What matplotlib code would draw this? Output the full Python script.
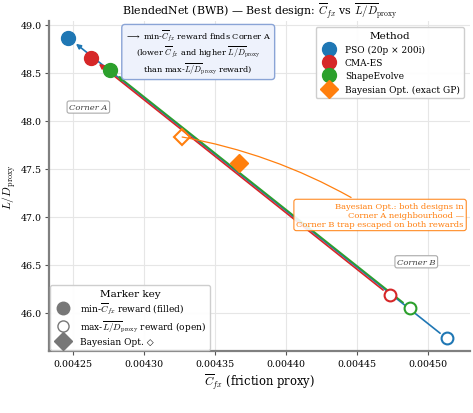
import matplotlib
matplotlib.use("Agg")
import matplotlib.pyplot as plt
from matplotlib.lines import Line2D

plt.rcParams['font.family'] = ['DejaVu Serif', 'DejaVu Sans']
plt.rcParams['mathtext.fontset'] = 'cm'

# best designs: (Cfx, L/D)
methods = ['PSO (20p × 200i)', 'CMA-ES', 'ShapeEvolve']
colors = ['#1f77b4', '#d62728', '#2ca02c']
cfx_min_cfx = [0.0042465, 0.0042627, 0.0042760]   # min-Cfx reward (filled)
ld_min_cfx = [48.865, 48.656, 48.530]
cfx_max_ld = [0.0045134, 0.0044732, 0.0044873]    # max-L/D reward (open)
ld_max_ld = [45.73, 46.18, 46.05]

bo_label = 'Bayesian Opt. (exact GP)'
bo_color = '#ff7f0e'
bo_cfx = [0.0043670, 0.0043268]   # filled, open
bo_ld = [47.56, 47.83]

fig, ax = plt.subplots(figsize=(4.73, 4.14), dpi=100)
fig.subplots_adjust(left=0.104, right=0.994, bottom=0.150, top=0.947)

for i, m in enumerate(methods):
    c = colors[i]
    ax.annotate('', xy=(cfx_min_cfx[i], ld_min_cfx[i]), xytext=(cfx_max_ld[i], ld_max_ld[i]),
                arrowprops=dict(arrowstyle='-|>', color=c, lw=1.2, mutation_scale=7,
                                shrinkA=6, shrinkB=7), zorder=2)
    ax.plot(cfx_min_cfx[i], ld_min_cfx[i], 'o', ms=10, color=c, zorder=4)
    ax.plot(cfx_max_ld[i], ld_max_ld[i], 'o', ms=8.5, mfc='white', mec=c, mew=1.5, zorder=4)

ax.plot(bo_cfx[0], bo_ld[0], 'D', ms=9, color=bo_color, zorder=4)
ax.plot(bo_cfx[1], bo_ld[1], 'D', ms=8, mfc='none', mec=bo_color, mew=1.5, zorder=4)

ax.set_xlim(0.004233, 0.004530)
ax.set_ylim(45.60, 49.04)
ax.set_xticks([0.00425, 0.00430, 0.00435, 0.00440, 0.00445, 0.00450])
ax.set_xticklabels(['0.00425', '0.00430', '0.00435', '0.00440', '0.00445', '0.00450'])
ax.set_yticks([46.0, 46.5, 47.0, 47.5, 48.0, 48.5, 49.0])
ax.tick_params(labelsize=6.8, length=3, color='#555555', pad=2.5)
ax.grid(True, color='#e6e6e6', lw=0.8)
ax.set_axisbelow(True)
for s in ['top', 'right']:
    ax.spines[s].set_visible(False)
for s in ['left', 'bottom']:
    ax.spines[s].set_color('#808080')
    ax.spines[s].set_linewidth(1.6)

ax.set_title(r'BlendedNet (BWB) — Best design: $\overline{C}_{fx}$ vs $\overline{L/D}_{\rm proxy}$',
             fontsize=7.9, pad=3)
ax.set_xlabel(r'$\overline{C}_{fx}$ (friction proxy)', fontsize=8.3, labelpad=3)
ax.set_ylabel(r'$\overline{L/D}_{\rm proxy}$', fontsize=8.3)
ax.yaxis.set_label_coords(-0.072, 0.5)

ax.text(0.354, 0.906,
        r'$\longrightarrow$ min-$\overline{C}_{fx}$ reward finds Corner A' + '\n' +
        r'(lower $\overline{C}_{fx}$ and higher $\overline{L/D}_{\rm proxy}$' + '\n' +
        r'than max-$\overline{L/D}_{\rm proxy}$ reward)',
        transform=ax.transAxes, ha='center', va='center', fontsize=5.9, linespacing=1.15,
        bbox=dict(boxstyle='round,pad=0.4', fc='#eef2fc', ec='#8aa4d6', lw=1))

ax.text(0.093, 0.739, 'Corner A', transform=ax.transAxes, ha='center', va='center',
        fontsize=6, style='italic', color='#444444',
        bbox=dict(boxstyle='round,pad=0.25', fc='white', ec='#aaaaaa', lw=0.8))
ax.text(0.872, 0.270, 'Corner B', transform=ax.transAxes, ha='center', va='center',
        fontsize=6, style='italic', color='#444444',
        bbox=dict(boxstyle='round,pad=0.25', fc='white', ec='#aaaaaa', lw=0.8))

ax.annotate('Bayesian Opt.: both designs in\nCorner A neighbourhood —\n'
            'Corner B trap escaped on both rewards',
            xy=(bo_cfx[1], bo_ld[1]), xytext=(0.786, 0.412), textcoords='axes fraction',
            ha='center', va='center', multialignment='right', fontsize=6, color=bo_color,
            bbox=dict(boxstyle='round,pad=0.3', fc='white', ec=bo_color, lw=0.8, alpha=0.9),
            arrowprops=dict(arrowstyle='-', color=bo_color, lw=0.9,
                            connectionstyle='arc3,rad=0.1', shrinkB=0))

method_handles = [Line2D([], [], marker='o', ls='', ms=10, color=c) for c in colors]
method_handles.append(Line2D([], [], marker='D', ls='', ms=9, color=bo_color))
leg1 = ax.legend(method_handles, methods + [bo_label], title='Method', loc='upper right',
                 fontsize=6.5, title_fontsize=7.5, framealpha=0.95, edgecolor='#cccccc',
                 handletextpad=0.8, borderpad=0.45, labelspacing=0.48, borderaxespad=0.7)
ax.add_artist(leg1)

key_handles = [Line2D([], [], marker='o', ls='', ms=9, color='#777777'),
               Line2D([], [], marker='o', ls='', ms=8, mfc='white', mec='#777777', mew=1),
               Line2D([], [], marker='D', ls='', ms=9, color='#777777')]
key_labels = [r'min-$\overline{C}_{fx}$ reward (filled)',
              r'max-$\overline{L/D}_{\rm proxy}$ reward (open)',
              'Bayesian Opt. ◇']
ax.legend(key_handles, key_labels, title='Marker key', loc='lower left',
          fontsize=6.5, title_fontsize=7.5, framealpha=0.95, edgecolor='#cccccc',
          handletextpad=0.8, borderpad=0.45, labelspacing=0.3, borderaxespad=0.12)

fig.text(237 / 473, 3 / 414, r'$\overline{C}_{fx}$ reward vs $\overline{L/D}_{\rm proxy}$ reward',
         ha='left', va='top', fontsize=12.5)

fig.savefig('out.png', dpi=100)
